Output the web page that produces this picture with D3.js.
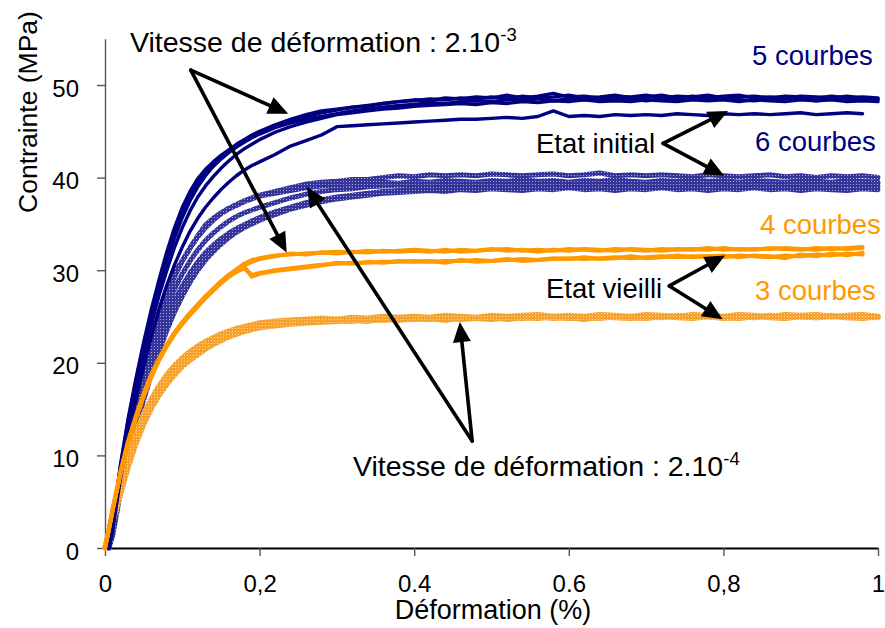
<!DOCTYPE html>
<html>
<head>
<meta charset="utf-8">
<script src="https://cdn.jsdelivr.net/npm/d3@7/dist/d3.min.js"></script>
<style>
  html, body { margin: 0; padding: 0; background: #fff; }
  svg { display: block; font-family: "Liberation Sans", Arial, Helvetica, sans-serif; }
</style>
</head>
<body>
<svg id="chart" width="885" height="628"></svg>
<script>
// Strain grid (%) shared by every tensile curve
const strain = [0, 0.005, 0.01, 0.02, 0.03, 0.04, 0.05, 0.06, 0.07, 0.08, 0.09,
  0.10, 0.11, 0.12, 0.13, 0.14, 0.15, 0.16, 0.17, 0.18, 0.19, 0.20,
  0.22, 0.24, 0.26, 0.28, 0.30, 0.32, 0.34, 0.36, 0.38, 0.40, 0.42, 0.44, 0.46, 0.48,
  0.50, 0.52, 0.54, 0.56, 0.58, 0.60, 0.62, 0.64, 0.66, 0.68, 0.70, 0.72, 0.74, 0.76,
  0.78, 0.80, 0.82, 0.84, 0.86, 0.88, 0.90, 0.92, 0.94, 0.96, 0.98, 1.00];

// Initial state, strain rate 2.10-3 (5 curves), stress in MPa
const init3a = [null, 0, 2.8, 9.0, 14.0, 18.3, 22.2, 25.8, 29.0, 32.0,
  34.6, 36.8, 38.5, 39.9, 40.9, 41.7, 42.4, 43.0, 43.6, 44.1,
  44.6, 45.0, 45.7, 46.3, 46.8, 47.2, 47.4, 47.6, 47.7, 48.0,
  48.2, 48.4, 48.3, 48.6, 48.5, 48.7, 48.6, 48.9, 48.6, 48.8,
  49.1, 48.7, 48.8, 48.6, 48.8, 48.7, 48.9, 48.6, 48.8, 48.7,
  48.9, 48.6, 48.7, 48.8, 48.6, 48.8, 48.7, 48.6, 48.8, 48.6,
  48.7, 48.6];
const init3b = [null, 0, 2.5, 8.5, 13.5, 17.8, 21.6, 25.0, 28.2, 31.0,
  33.5, 35.7, 37.5, 39.0, 40.2, 41.2, 42.0, 42.7, 43.3, 43.8,
  44.3, 44.7, 45.4, 45.9, 46.3, 46.6, 46.9, 47.2, 47.4, 47.6,
  47.8, 47.9, 48.1, 48.0, 48.2, 48.3, 48.2, 48.4, 48.3, 48.5,
  48.3, 48.5, 48.4, 48.6, 48.4, 48.5, 48.3, 48.5, 48.4, 48.6,
  48.4, 48.5, 48.4, 48.3, 48.5, 48.4, 48.5, 48.3, 48.5, 48.4,
  48.5, 48.4];
const init3c = [null, 0, 2.2, 8.0, 12.8, 17.0, 20.8, 24.2, 27.3, 30.0,
  32.5, 34.6, 36.4, 37.9, 39.1, 40.1, 41.0, 41.8, 42.5, 43.1,
  43.6, 44.1, 44.9, 45.5, 46.0, 46.4, 46.8, 47.0, 47.2, 47.4,
  47.5, 47.7, 47.8, 47.9, 48.0, 47.9, 48.1, 48.0, 48.2, 48.1,
  48.3, 48.2, 48.4, 48.2, 48.3, 48.2, 48.4, 48.3, 48.2, 48.4,
  48.3, 48.4, 48.2, 48.4, 48.3, 48.2, 48.4, 48.3, 48.4, 48.2,
  48.3, 48.2];
const init3d = [null, 0, 2.0, 7.5, 12.0, 16.0, 19.6, 22.8, 25.8, 28.4,
  30.6, 32.5, 34.2, 35.6, 36.8, 37.8, 38.7, 39.5, 40.2, 40.8,
  41.3, 41.7, 42.5, 43.4, 44.0, 44.6, 45.5, 45.6, 45.7, 45.8,
  45.9, 46.0, 46.1, 46.2, 46.3, 46.3, 46.4, 46.5, 46.4, 46.6,
  47.2, 46.6, 46.7, 46.6, 46.8, 46.7, 46.8, 46.7, 46.9, 46.8,
  46.7, 46.9, 46.8, 46.9, 46.8, 46.9, 47.0, 46.8, 46.9, 47.0,
  46.9, null];
const init3e = [null, 0, 2.6, 8.8, 13.8, 18.0, 21.9, 25.4, 28.6, 31.5,
  34.0, 36.2, 38.0, 39.5, 40.6, 41.5, 42.2, 42.9, 43.5, 44.0,
  44.4, 44.9, 45.6, 46.1, 46.6, 47.0, 47.3, 47.6, 47.8, 48.0,
  48.2, 48.3, 48.5, 48.4, 48.6, 48.5, 48.7, 48.5, 48.8, 48.6,
  48.7, 48.9, 48.6, 48.7, 48.9, 48.6, 48.7, 48.9, 48.6, 48.8,
  48.6, 48.8, 48.9, 48.6, 48.7, 48.6, 48.8, 48.7, 48.6, 48.8,
  48.6, 48.5];

// Initial state, strain rate 2.10-4 (6 curves)
const init4a = [null, 0, 2.3, 8.2, 12.8, 16.8, 20.2, 23.0, 25.5, 28.0,
  29.8, 31.0, 32.4, 33.7, 34.9, 35.6, 36.2, 36.7, 37.1, 37.5,
  37.8, 38.1, 38.5, 38.9, 39.3, 39.5, 39.6, 39.8, 39.8, 40.0,
  40.2, 40.1, 40.3, 40.2, 40.3, 40.2, 40.4, 40.3, 40.2, 40.3,
  40.4, 40.2, 40.3, 40.5, 40.2, 40.3, 40.2, 40.3, 40.2, 40.1,
  40.3, 40.2, 40.1, 40.2, 40.3, 40.1, 40.2, 40.0, 40.2, 40.1,
  40.2, 40.0];
const init4b = [null, 0, 2.0, 7.6, 12.0, 15.8, 19.2, 22.3, 25.0, 27.3,
  29.3, 31.0, 32.4, 33.6, 34.6, 35.4, 36.1, 36.6, 37.0, 37.4,
  37.7, 38.0, 38.3, 38.6, 38.9, 39.1, 39.2, 39.3, 39.4, 39.5,
  39.4, 39.6, 39.5, 39.7, 39.6, 39.5, 39.7, 39.6, 39.8, 39.6,
  39.7, 39.5, 39.7, 39.6, 39.8, 39.6, 39.5, 39.7, 39.6, 39.8,
  39.6, 39.7, 39.5, 39.7, 39.6, 39.5, 39.7, 39.6, 39.5, 39.7,
  39.6, 39.5];
const init4c = [null, 0, 1.8, 7.0, 11.2, 14.8, 18.1, 21.1, 23.7, 26.0,
  28.0, 29.6, 31.0, 32.2, 33.2, 34.0, 34.7, 35.3, 35.8, 36.2,
  36.5, 36.8, 37.3, 37.8, 38.2, 38.5, 38.7, 38.8, 39.0, 39.1,
  39.2, 39.1, 39.3, 39.2, 39.4, 39.3, 39.2, 39.4, 39.3, 39.5,
  39.3, 39.4, 39.2, 39.4, 39.3, 39.5, 39.3, 39.4, 39.2, 39.4,
  39.3, 39.4, 39.3, 39.2, 39.4, 39.3, 39.5, 39.3, 39.4, 39.3,
  39.4, 39.3];
const init4d = [null, 0, 1.6, 6.6, 10.6, 14.0, 17.2, 20.1, 22.6, 24.8,
  26.7, 28.3, 29.7, 30.9, 31.9, 32.7, 33.4, 34.0, 34.5, 34.9,
  35.3, 35.7, 36.3, 36.8, 37.3, 37.6, 37.9, 38.1, 38.3, 38.5,
  38.6, 38.7, 38.8, 38.9, 39.0, 39.1, 39.0, 39.2, 39.1, 39.2,
  39.0, 39.2, 39.1, 39.3, 39.1, 39.2, 39.0, 39.2, 39.1, 39.0,
  39.2, 39.1, 39.2, 39.0, 39.1, 39.2, 39.0, 39.1, 39.0, 39.2,
  39.1, 39.0];
const init4e = [null, 0, 1.4, 6.0, 9.8, 13.0, 16.0, 18.8, 21.3, 23.5,
  25.5, 27.2, 28.7, 30.0, 31.1, 32.0, 32.8, 33.5, 34.1, 34.6,
  35.0, 35.4, 36.0, 36.6, 37.0, 37.4, 37.7, 37.9, 38.1, 38.3,
  38.4, 38.5, 38.6, 38.5, 38.7, 38.6, 38.8, 38.7, 38.6, 38.8,
  38.7, 38.9, 38.7, 38.8, 38.6, 38.8, 38.7, 38.9, 38.7, 38.8,
  38.6, 38.8, 38.7, 38.9, 38.7, 38.8, 38.6, 38.8, 38.7, 38.6,
  38.8, 38.7];

// Aged state, strain rate 2.10-3 (4 curves)
const aged3a = [0, 2.1, 4.3, 8.3, 11.6, 14.3, 16.7, 18.8, 20.5, 22.0,
  23.3, 24.4, 25.4, 26.3, 27.2, 28.0, 28.8, 29.5, 30.1, 30.7,
  31.1, 31.3, 31.6, 31.7, 31.8, 31.9, 31.8, 32.0, 31.9, 32.1,
  32.0, 32.1, 32.0, 32.2, 32.0, 32.1, 32.3, 32.1, 32.2, 32.0,
  32.2, 32.1, 32.3, 32.2, 32.1, 32.3, 32.2, 32.1, 32.3, 32.2,
  32.4, 32.2, 32.3, 32.2, 32.4, 32.3, 32.2, 32.4, 32.3, 32.4,
  32.5, null];
const aged3b = [0, 2.0, 4.2, 8.1, 11.4, 14.1, 16.5, 18.6, 20.4, 21.9,
  23.2, 24.3, 25.3, 26.2, 27.1, 27.9, 28.7, 29.4, 30.0, 30.4,
  29.3, 29.6, 29.9, 30.1, 30.3, 30.5, 30.8, 30.7, 30.9, 30.8,
  31.0, 30.9, 31.0, 30.8, 31.1, 30.9, 31.0, 31.2, 31.0, 31.1,
  31.3, 31.2, 31.4, 31.2, 31.3, 31.5, 31.3, 31.4, 31.6, 31.4,
  31.5, 31.6, 31.4, 31.6, 31.5, 31.3, 31.7, 31.5, 31.8, 31.6,
  31.9, null];
const aged3c = [0, 2.0, 4.1, 8.0, 11.3, 14.0, 16.4, 18.5, 20.3, 21.8,
  23.1, 24.2, 25.2, 26.1, 27.0, 27.8, 28.6, 29.3, 29.9, 30.5,
  30.9, 31.2, 31.5, 31.8, 31.7, 31.9, 32.0, 31.9, 32.1, 32.0,
  32.1, 32.2, 32.1, 32.0, 32.2, 32.1, 32.2, 32.3, 32.1, 32.2,
  32.1, 32.3, 32.2, 32.1, 32.3, 32.2, 32.1, 32.3, 32.2, 32.3,
  32.2, 32.4, 32.2, 32.3, 32.3, 32.4, 32.3, 32.2, 32.4, 32.3,
  32.4, null];
const aged3d = [0, 2.0, 4.1, 8.0, 11.3, 14.0, 16.4, 18.5, 20.3, 21.8,
  23.1, 24.2, 25.2, 26.1, 27.0, 27.8, 28.6, 29.3, 29.8, 30.2,
  29.5, 29.7, 30.0, 30.2, 30.4, 30.6, 30.7, 30.8, 30.8, 30.9,
  30.9, 31.0, 30.9, 31.0, 31.0, 31.1, 31.0, 31.1, 31.2, 31.1,
  31.2, 31.3, 31.2, 31.3, 31.4, 31.3, 31.4, 31.5, 31.4, 31.5,
  31.5, 31.4, 31.6, 31.5, 31.4, 31.6, 31.5, 31.7, 31.6, 31.8,
  31.7, null];

// Aged state, strain rate 2.10-4 (3 curves)
const aged4a = [0, 1.6, 3.2, 6.3, 9.4, 11.9, 14.0, 15.6, 17.0, 18.2,
  19.2, 20.0, 20.7, 21.3, 21.8, 22.3, 22.7, 23.0, 23.3, 23.6,
  23.8, 24.0, 24.2, 24.4, 24.5, 24.6, 24.6, 24.5, 24.7, 24.6,
  24.8, 24.7, 24.8, 24.6, 24.9, 24.8, 24.7, 24.9, 24.8, 25.0,
  24.8, 24.9, 24.7, 25.0, 24.9, 24.8, 25.0, 24.9, 25.1, 24.9,
  25.0, 24.8, 25.0, 24.9, 25.1, 24.9, 25.0, 24.9, 25.0, 24.9,
  25.0, 24.9];
const aged4b = [0, 1.3, 2.8, 5.8, 8.8, 11.3, 13.4, 15.1, 16.5, 17.7,
  18.7, 19.6, 20.3, 20.9, 21.5, 22.0, 22.4, 22.8, 23.1, 23.4,
  23.6, 23.8, 24.0, 24.2, 24.3, 24.4, 24.5, 24.6, 24.5, 24.7,
  24.6, 24.8, 24.7, 24.9, 24.7, 24.8, 24.9, 24.7, 24.9, 24.8,
  25.0, 24.8, 24.9, 24.8, 25.0, 24.9, 24.8, 25.0, 24.9, 24.8,
  25.0, 24.9, 24.8, 25.0, 24.9, 24.8, 25.0, 24.9, 25.1, 24.9,
  24.8, 25.0];
const aged4c = [0, 1.8, 3.5, 6.8, 9.9, 12.4, 14.5, 16.1, 17.5, 18.7,
  19.7, 20.5, 21.2, 21.8, 22.3, 22.7, 23.1, 23.4, 23.7, 23.9,
  24.1, 24.3, 24.5, 24.6, 24.7, 24.8, 24.7, 24.9, 24.8, 25.0,
  24.9, 25.0, 24.9, 25.1, 25.0, 24.9, 25.1, 25.0, 25.1, 25.2,
  25.0, 25.1, 25.0, 25.2, 25.1, 25.0, 25.2, 25.1, 25.0, 25.2,
  25.1, 25.0, 25.2, 25.1, 25.0, 25.2, 25.1, 25.2, 25.0, 25.1,
  25.2, 25.0];

// Axis ticks
const xTickValues = [0, 0.2, 0.4, 0.6, 0.8, 1];
const xTickLabels = ["0", "0,2", "0.4", "0.6", "0,8", "1"];
const yTickValues = [0, 10, 20, 30, 40, 50];

// Annotation arrows: [from strain, from stress, to strain, to stress]
const arrowsRate3 = [[0.111, 51.6, 0.237, 46.9], [0.111, 51.6, 0.235, 31.9]];
const arrowsRate4 = [[0.475, 11.55, 0.261, 39.0], [0.475, 11.55, 0.459, 24.4]];
const arrowsInit = [[0.722, 43.7, 0.806, 47.2], [0.722, 43.7, 0.801, 40.2]];
const arrowsAged = [[0.730, 28.3, 0.802, 31.6], [0.730, 28.3, 0.799, 24.7]];

// ---------------------------------------------------------------------------
const svg = d3.select("#chart");
const x = d3.scaleLinear().domain([0, 1]).range([105, 878]);
const y = d3.scaleLinear().domain([0, 55]).range([548, 548 - 55 * 9.26]);

// Speckled stroke paints for the slow-rate curves
const defs = svg.append("defs");
function speckle(id, base, dot) {
  const p = defs.append("pattern").attr("id", id)
    .attr("patternUnits", "userSpaceOnUse").attr("width", 3).attr("height", 3);
  p.append("rect").attr("width", 3).attr("height", 3).attr("fill", base);
  p.append("rect").attr("x", 1).attr("y", 1).attr("width", 1).attr("height", 1).attr("fill", dot);
}
speckle("texBlue", "#34349a", "#a6a6d8");
speckle("texOrange", "#f8a22e", "#ffd699");

// Axes
const tickFont = 24;
const yAxis = d3.axisLeft(y).tickValues(yTickValues).tickFormat(d3.format("d"))
  .tickSize(8).tickPadding(18).tickSizeOuter(0);
const gy = svg.append("g").attr("transform", `translate(${x(0)},0)`).call(yAxis);
gy.select(".domain").attr("stroke", "#555").attr("stroke-width", 1.4);
gy.selectAll(".tick line").attr("stroke", "#555").attr("stroke-width", 1.4);
gy.selectAll(".tick text").attr("font-size", tickFont).attr("font-family", "Liberation Sans, Arial, sans-serif")
  .attr("fill", "#000").attr("dy", "0.46em");

const xAxis = d3.axisBottom(x).tickValues(xTickValues).tickFormat((d, i) => xTickLabels[i])
  .tickSize(8).tickPadding(19).tickSizeOuter(0);
const gx = svg.append("g").attr("transform", `translate(0,${y(0)})`).call(xAxis);
gx.select(".domain").attr("stroke", "#000").attr("stroke-width", 2);
gx.selectAll(".tick line").attr("stroke", "#555").attr("stroke-width", 1.4);
gx.selectAll(".tick text").attr("font-size", tickFont).attr("font-family", "Liberation Sans, Arial, sans-serif")
  .attr("fill", "#000");

// Curves
const line = d3.line()
  .defined(d => d[1] !== null)
  .x(d => x(d[0]))
  .y(d => y(d[1]));
const toPoints = s => strain.map((e, i) => [e, s[i]]);

const groups = [
  { curves: [init4e, init4d, init4c, init4b, init4a], stroke: "url(#texBlue)", width: 5 },
  { curves: [aged4b, aged4a, aged4c], stroke: "url(#texOrange)", width: 5.5 },
  { curves: [init3d, init3c, init3b, init3e, init3a], stroke: "#000080", width: 3.4 },
  { curves: [aged3d, aged3b, aged3c, aged3a], stroke: "#ff9900", width: 4 }
];
groups.forEach(g => {
  svg.append("g").selectAll("path").data(g.curves).join("path")
    .attr("d", s => line(toPoints(s)))
    .attr("fill", "none")
    .attr("stroke", g.stroke)
    .attr("stroke-width", g.width)
    .attr("stroke-linejoin", "round")
    .attr("stroke-linecap", "round");
});

// Arrows
const gArrows = svg.append("g");
[...arrowsRate3, ...arrowsRate4, ...arrowsInit, ...arrowsAged].forEach(a => {
  const x0 = x(a[0]), y0 = y(a[1]), x1 = x(a[2]), y1 = y(a[3]);
  const len = Math.hypot(x1 - x0, y1 - y0);
  const ux = (x1 - x0) / len, uy = (y1 - y0) / len;
  const L = 20, W = 9;
  const bx = x1 - ux * L, by = y1 - uy * L;
  gArrows.append("line")
    .attr("x1", x0).attr("y1", y0).attr("x2", bx + ux * 2).attr("y2", by + uy * 2)
    .attr("stroke", "#000").attr("stroke-width", 3.6).attr("stroke-linecap", "round");
  gArrows.append("path")
    .attr("d", `M${x1},${y1}L${bx - uy * W},${by + ux * W}L${bx + uy * W},${by - ux * W}Z`)
    .attr("fill", "#000");
});

// Texts
const fs = 27.5;
function rateLabel(px, py, exp) {
  const t = svg.append("text").attr("x", px).attr("y", py).attr("font-size", 28.5).attr("fill", "#000");
  t.append("tspan").text("Vitesse de déformation : 2.10");
  t.append("tspan").attr("font-size", 18.5).attr("dy", -11).text(exp);
}
rateLabel(130, 52, "-3");
rateLabel(353, 476, "-4");

const notes = [
  { t: "5 courbes", x: 752, y: 65, c: "#000080" },
  { t: "6 courbes", x: 755, y: 151, c: "#000080" },
  { t: "Etat initial", x: 536, y: 153, c: "#000" },
  { t: "4 courbes", x: 760, y: 234, c: "#ff9900" },
  { t: "3 courbes", x: 755, y: 300, c: "#ff9900" },
  { t: "Etat vieilli", x: 546, y: 298, c: "#000" }
];
svg.append("g").selectAll("text").data(notes).join("text")
  .attr("x", d => d.x).attr("y", d => d.y).attr("fill", d => d.c)
  .attr("font-size", fs).text(d => d.t);

// Axis titles
svg.append("text").attr("transform", "translate(37,112) rotate(-90)")
  .attr("text-anchor", "middle").attr("font-size", 26.5).attr("fill", "#000")
  .text("Contrainte (MPa)");
svg.append("text").attr("x", 493).attr("y", 619)
  .attr("text-anchor", "middle").attr("font-size", 27).attr("fill", "#000")
  .text("Déformation (%)");
</script>
</body>
</html>
